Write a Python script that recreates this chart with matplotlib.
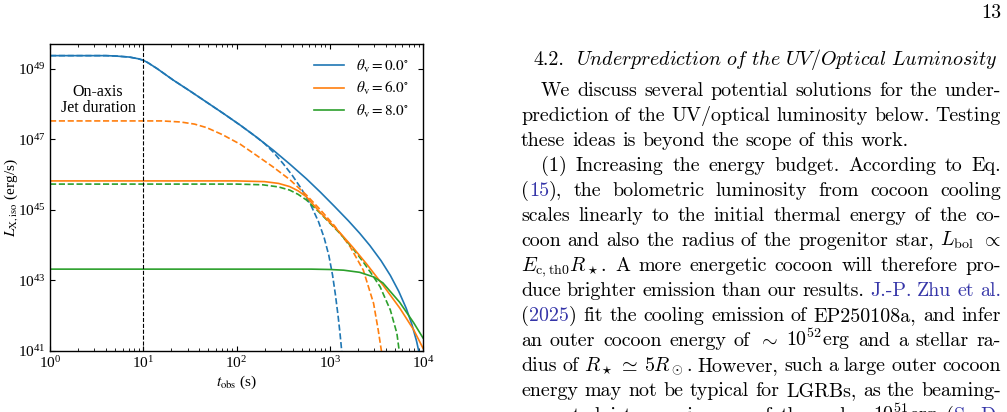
import matplotlib

matplotlib.use("Agg")
import matplotlib.pyplot as plt
import numpy as np
from matplotlib.ticker import FixedLocator, NullLocator, LogFormatterSciNotation

plt.rcParams["font.family"] = ["Liberation Serif", "DejaVu Serif"]
plt.rcParams["mathtext.fontset"] = "stix"

W, H = 1007, 412

# ── curves: log10 t_obs (s), log10 L_X,iso (erg/s) ──
blue_solid_logt = [0.0, 0.6, 0.7, 0.85, 0.95, 1.0, 1.05, 1.15, 1.32, 1.5, 1.68, 1.86, 2.04,
                   2.2, 2.39, 2.57, 2.75, 2.9, 3.05, 3.2, 3.32, 3.43, 3.55, 3.65, 3.74,
                   3.82, 3.88, 3.93, 3.97]
blue_solid_logL = [49.37, 49.37, 49.36, 49.33, 49.28, 49.24, 49.17, 49.0, 48.68, 48.37, 48.05, 47.73, 47.40,
                   47.09, 46.70, 46.30, 45.88, 45.50, 45.10, 44.69, 44.34, 43.99, 43.56, 43.14, 42.69,
                   42.21, 41.76, 41.29, 40.81]

blue_dash_logt = [0.0, 0.6, 0.7, 0.85, 0.95, 1.0, 1.05, 1.15, 1.32, 1.5, 1.68, 1.86, 2.04,
                  2.2, 2.3, 2.4, 2.5, 2.6, 2.7, 2.8, 2.88, 2.94, 2.99, 3.03, 3.06, 3.09,
                  3.11, 3.13]
blue_dash_logL = [49.37, 49.37, 49.36, 49.33, 49.28, 49.24, 49.17, 49.0, 48.68, 48.37, 48.05, 47.73, 47.40,
                  47.09, 46.88, 46.62, 46.31, 45.97, 45.58, 45.12, 44.66, 44.21, 43.71, 43.15, 42.61, 41.98,
                  41.50, 40.95]

orange_solid_logt = [0.0, 2.0, 2.3, 2.45, 2.57, 2.66, 2.75, 2.9, 3.11, 3.25, 3.40, 3.57,
                     3.75, 3.90, 4.0]
orange_solid_logL = [45.82, 45.82, 45.80, 45.75, 45.66, 45.54, 45.37, 44.92, 44.35, 43.93, 43.45, 42.87,
                     42.22, 41.60, 41.08]

orange_dash_logt = [0.0, 1.2, 1.4, 1.55, 1.68, 1.85, 2.04, 2.2, 2.39, 2.57, 2.75, 2.9, 3.05,
                    3.22, 3.36, 3.47, 3.52, 3.56]
orange_dash_logL = [47.52, 47.52, 47.49, 47.43, 47.33, 47.13, 46.86, 46.57, 46.22, 45.86, 45.42,
                    45.00, 44.55, 43.95, 43.29, 42.35, 41.59, 40.90]

green_solid_logt = [0.0, 2.8, 3.0, 3.15, 3.32, 3.47, 3.57, 3.75, 3.90, 4.0]
green_solid_logL = [43.32, 43.32, 43.31, 43.29, 43.23, 43.10, 42.93, 42.38, 41.80, 41.37]

green_dash_logt = [0.0, 2.0, 2.28, 2.45, 2.57, 2.66, 2.75, 2.9, 3.11, 3.25, 3.36, 3.45, 3.54,
                   3.65, 3.72, 3.75]
green_dash_logL = [45.73, 45.73, 45.71, 45.65, 45.56, 45.44, 45.28, 44.90, 44.33, 43.90, 43.52,
                   43.18, 42.82, 42.16, 41.50, 40.90]

view_angles = [0.0, 6.0, 8.0]
jet_duration = 10.0  # s
y_ticks = [1e41, 1e43, 1e45, 1e47, 1e49]

# ── paper text on the right ──
page_number = "13"
section_no = "4.2."
section_title = r"$\mathit{Underprediction\ of\ the\ UV/Optical\ Luminosity}$"
# (text, indented, justified); words between | | are link coloured
body_lines = [
    ("We discuss several potential solutions for the under-", True, True),
    ("prediction of the UV/optical luminosity below. Testing", False, True),
    ("these ideas is beyond the scope of this work.", False, False),
    ("(1) Increasing the energy budget.  According to Eq.", True, True),
    ("(|15|), the bolometric luminosity from cocoon cooling", False, True),
    ("scales linearly to the initial thermal energy of the co-", False, True),
    (r"coon and also the radius of the progenitor star, $L_{\mathrm{bol}}$ $\propto$", False, True),
    (r"$E_{\mathrm{c,th0}}R_\star$.  A more energetic cocoon will therefore pro-", False, True),
    ("duce brighter emission than our results. |J.-P.| |Zhu| |et| |al.|", False, True),
    ("(|2025|) fit the cooling emission of EP250108a, and infer", False, True),
    (r"an outer cocoon energy of $\sim$ $10^{52}$erg and a stellar ra-", False, True),
    (r"dius of $R_\star$ $\simeq$ $5R_\odot$.  However, such a large outer cocoon", False, True),
    ("energy may not be typical for LGRBs, as the beaming-", False, True),
    (r"corrected jet energies are of the order $10^{51}$erg (|S.| |D.|", False, True),
]

COLORS = ["#1f77b4", "#ff7f0e", "#2ca02c"]
LINK = "#3535a8"

fig = plt.figure(figsize=(W / 100, H / 100), dpi=100)
ax = fig.add_axes([50 / W, 1 - 351 / H, 373 / W, 307 / H])

curves = [
    (blue_solid_logt, blue_solid_logL, blue_dash_logt, blue_dash_logL),
    (orange_solid_logt, orange_solid_logL, orange_dash_logt, orange_dash_logL),
    (green_solid_logt, green_solid_logL, green_dash_logt, green_dash_logL),
]
for i, (ts, ls, td, ld) in enumerate(curves):
    ax.plot(10 ** np.array(td), 10 ** np.array(ld), color=COLORS[i], ls="--", lw=1.2)
for i, (ts, ls, td, ld) in enumerate(curves):
    ax.plot(10 ** np.array(ts), 10 ** np.array(ls), color=COLORS[i], lw=1.2,
            label=r"$\theta_{\rm v} = %.1f^{\circ}$" % view_angles[i])

ax.axvline(jet_duration, color="k", ls="--", lw=0.8)
ax.text(0.129, 0.818, "On-axis\nJet duration", transform=ax.transAxes,
        ha="center", va="center", fontsize=11.5, linespacing=1.05)

ax.set_xscale("log")
ax.set_yscale("log")
ax.set_xlim(1, 1e4)
ax.set_ylim(1e41, 10 ** 49.7)
ax.yaxis.set_major_locator(FixedLocator(y_ticks))
ax.yaxis.set_major_formatter(LogFormatterSciNotation())
ax.yaxis.set_minor_locator(NullLocator())
ax.tick_params(which="both", direction="in", top=True, right=True, labelsize=11)
ax.tick_params(which="major", length=3.5, width=0.8, pad=3)
ax.tick_params(which="minor", length=2, width=0.6)
for s in ax.spines.values():
    s.set_linewidth(1.0)

ax.set_xlabel(r"$t_{\rm obs}$ (s)", fontsize=11)
ax.set_ylabel(r"$L_{\rm X,iso}$ (erg/s)", fontsize=11)
ax.xaxis.set_label_coords(0.5, -0.075)
ax.yaxis.set_label_coords(-0.08, 0.5)

ax.legend(loc="upper right", frameon=False, fontsize=11, handlelength=2.0,
          handletextpad=0.8, labelspacing=0.35)

# ── right column text ──
BODY_FS = 14.4
LEFT, RIGHT = 521, 1001
INDENT = 20
LINE_H = 25
renderer = fig.canvas.get_renderer()


def put_text(x, y, s, **kw):
    return fig.text(x / W, 1 - y / H, s, fontsize=BODY_FS, family="cmr10",
                    math_fontfamily="cm", va="baseline", **kw)


def put_line(line, y, x0, x1, justify):
    words = []
    for w in line.split():
        pieces = []
        for k, p in enumerate(w.split("|")):
            if p:
                pieces.append(put_text(0, y, p, color=LINK if k % 2 else "black"))
        words.append(pieces)
    widths = [[t.get_window_extent(renderer).width for t in pcs] for pcs in words]
    total = sum(sum(ws) for ws in widths)
    space = BODY_FS / 72 * 100 * 0.333
    if justify and len(words) > 1:
        space = (x1 - x0 - total) / (len(words) - 1)
    x = x0
    for pcs, ws in zip(words, widths):
        for t, wdt in zip(pcs, ws):
            t.set_x(x / W)
            x += wdt
        x += space


put_text(RIGHT, 18, page_number, ha="right")
t_no = put_text(533, 65, section_no)
no_w = t_no.get_window_extent(renderer).width
put_text(533 + no_w + 12, 65, section_title)

for j, (line, indented, justify) in enumerate(body_lines):
    y = 96 + j * LINE_H
    put_line(line, y, LEFT + (INDENT if indented else 0), RIGHT, justify)

fig.savefig("out.png", dpi=100)
